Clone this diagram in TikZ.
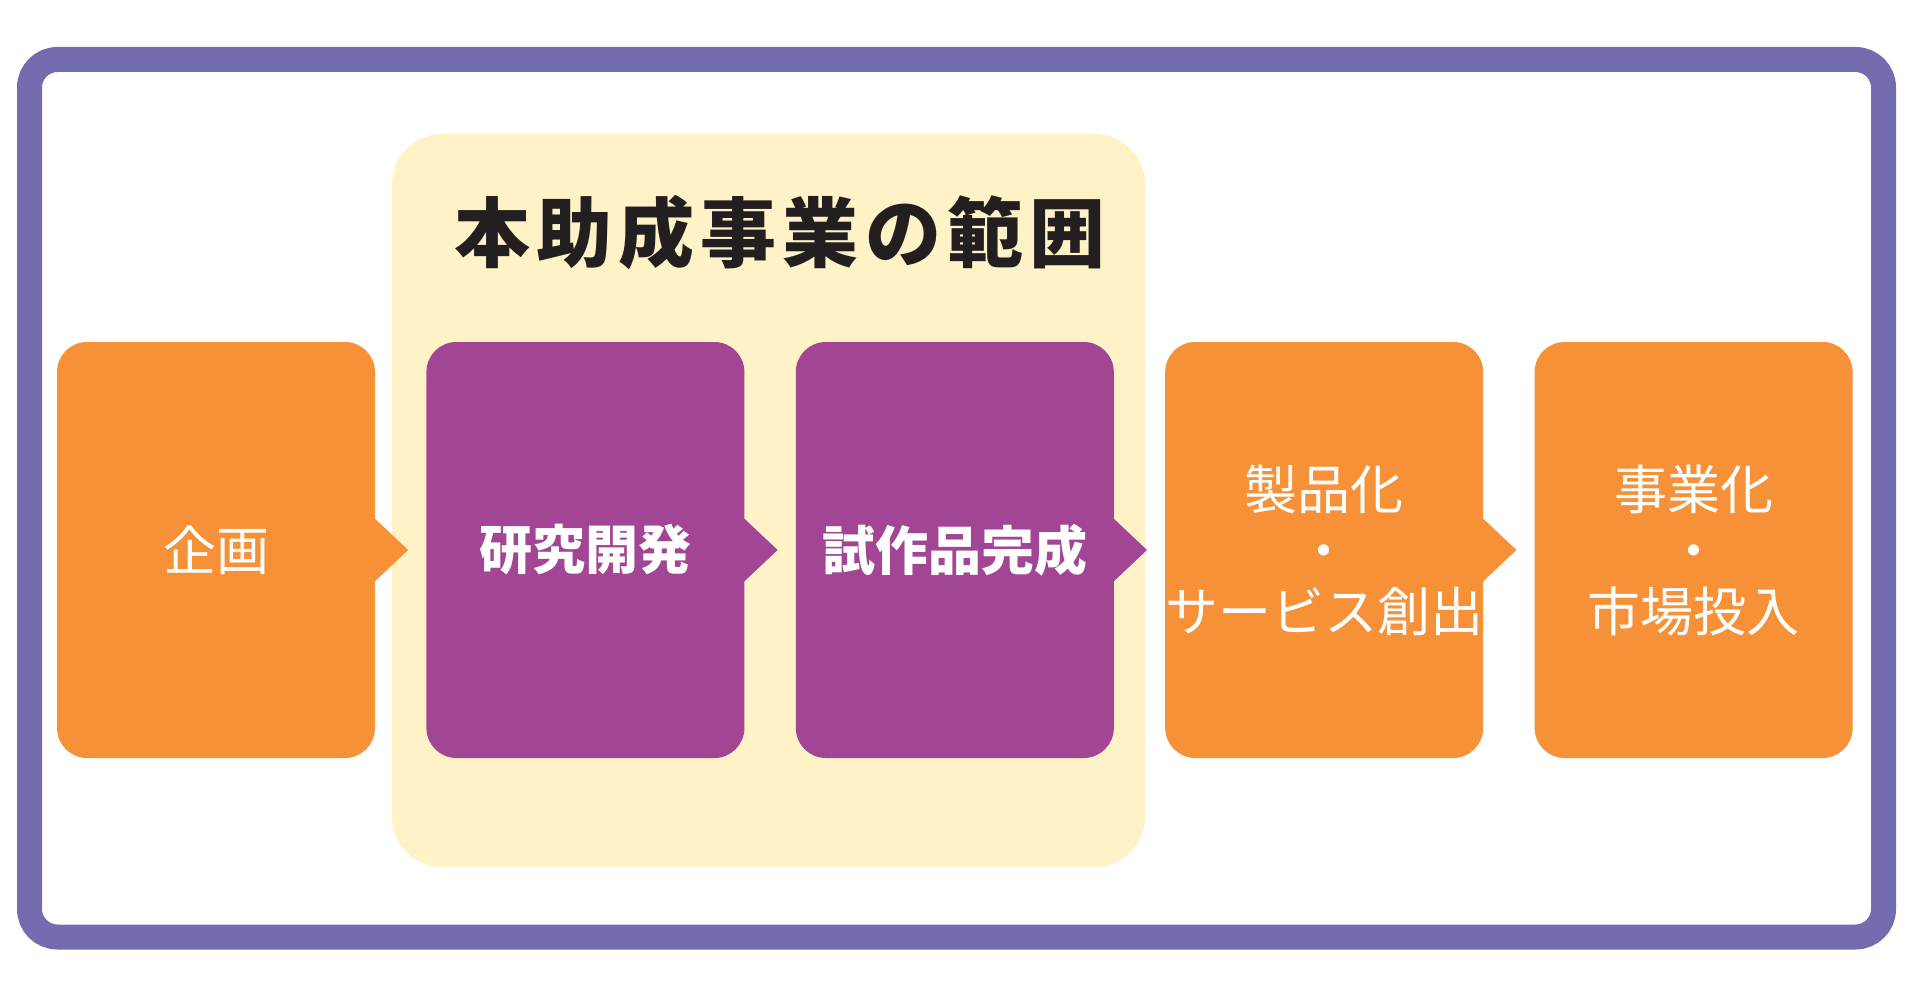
\documentclass[tikz,border=0pt]{standalone}
\usepackage{fontspec}
\setmainfont{Noto Sans CJK JP}
\newfontfamily\titlefont{Noto Sans CJK JP}[LetterSpace=8]
\usetikzlibrary{positioning, calc}
\definecolor{frameViolet}{HTML}{736DAF}
\definecolor{stepOrange}{HTML}{F69138}
\definecolor{stepPurple}{HTML}{A24594}
\definecolor{scopeYellow}{HTML}{FEF2C6}
\definecolor{titleBlack}{HTML}{231F20}

\begin{document}
\begin{tikzpicture}[x=1pt, y=-1pt,
    stepbox/.style={rectangle, rounded corners=30pt, minimum width=318pt,
                    minimum height=416pt, inner sep=0pt, align=center,
                    font=\fontsize{53}{61}\selectfont\color{white}},
    orangestep/.style={stepbox, fill=stepOrange},
    purplestep/.style={stepbox, fill=stepPurple,
                       font=\fontsize{53}{61}\selectfont\bfseries\color{white}},
  ]
    \useasboundingbox (0,0) rectangle (1910,1000);

    % outer frame and the funded range
    \draw[frameViolet, line width=25pt, rounded corners=28pt]
      (29.5,59.5) rectangle (1883.5,937);
    \fill[scopeYellow, rounded corners=50pt] (392,134) rectangle (1145,867);
    \node[font=\titlefont\fontsize{76}{76}\selectfont\bfseries, text=titleBlack]
      (title) at (780,233) {本助成事業の範囲};

    \node[orangestep] (s1) at (216,550) {企画};
    \node[purplestep, right=51pt of s1] (s2) {研究開発};
    \node[purplestep, right=51pt of s2] (s3) {試作品完成};
    \node[orangestep, right=51pt of s3] (s4)
      {製品化\\・\\サービス創出};
    \node[orangestep, right=51pt of s4] (s5)
      {事業化\\・\\市場投入};

    % arrow tabs
    \fill[stepOrange] (s1.east) ++(-2,-33) -- ++(35,33) -- ++(-35,33) -- cycle;
    \fill[stepPurple] (s2.east) ++(-2,-33) -- ++(35,33) -- ++(-35,33) -- cycle;
    \fill[stepPurple] (s3.east) ++(-2,-33) -- ++(35,33) -- ++(-35,33) -- cycle;
    \fill[stepOrange] (s4.east) ++(-2,-33) -- ++(35,33) -- ++(-35,33) -- cycle;
  \end{tikzpicture}
\end{document}
